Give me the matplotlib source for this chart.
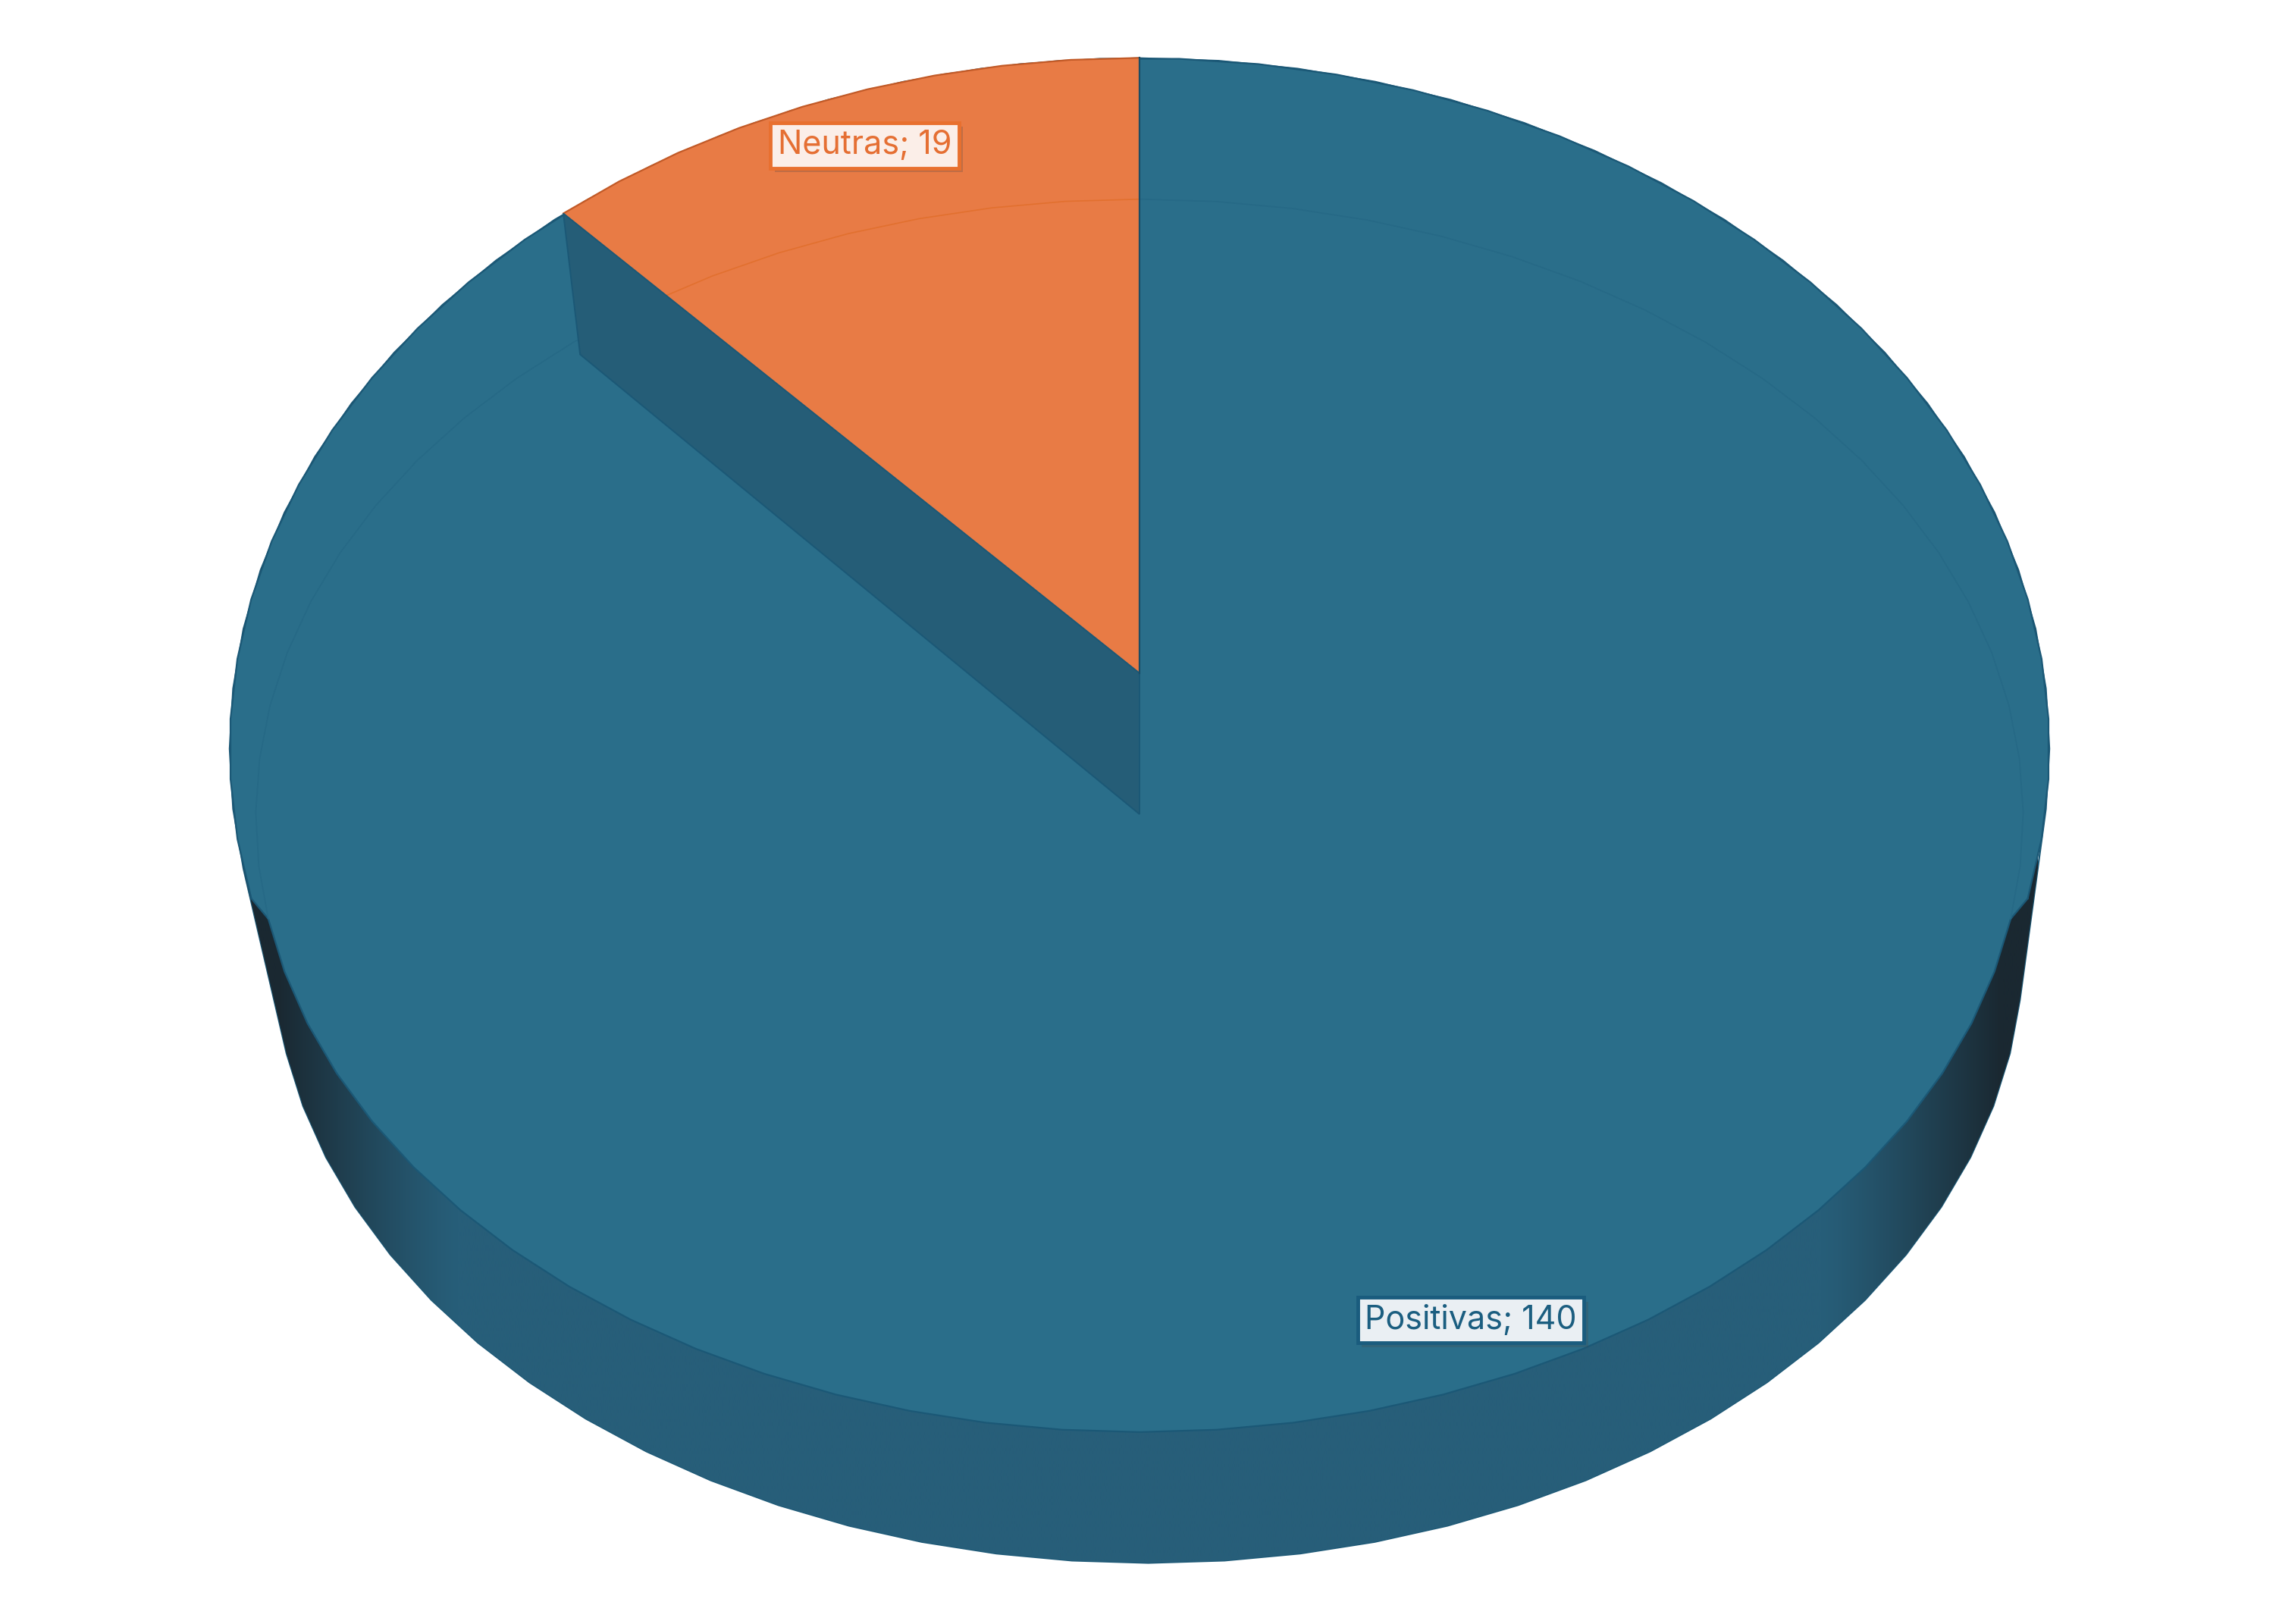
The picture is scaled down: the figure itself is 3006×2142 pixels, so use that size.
import numpy as np
import matplotlib.pyplot as plt
from matplotlib.patches import Polygon
from matplotlib import patheffects

labels = ["Positivas", "Neutras"]
values = [140, 19]
colors = ["#2A6E8A", "#E87B45"]
text_colors = ["#1B5E80", "#E56F33"]
box_fills = ["#EAEFF3", "#FBEEE8"]
box_edges = ["#1A5C7E", "#E8702F"]

W, H = 1568, 1117
# (centre x, centre y, radius x, radius y) of the ellipses used for the 3d look
rim = (784, 515, 626, 475)
base = (790, 651, 602, 424)
face = (784, 561, 608, 424)
# perspective for slice edges: (centre x, centre y, radius, depth, tilt)
top_level = (784, 463, 618, 460, 0.087)
low_level = (784, 560, 600, 460, 0.087)
join_rim = 618
join_face = 632

wall_col = np.array([0x27, 0x5E, 0x79]) / 255
dark_col = np.array([0x1A, 0x28, 0x31]) / 255
cut_col = "#255D77"
edge_col = "#1B5876"


def arc(ell, a0, a1, step=5.0):
    ex, ey, rx, ry = ell
    n = max(2, int(round(abs(a1 - a0) / step)) + 1)
    a = np.radians(np.linspace(a0, a1, n))
    return np.column_stack([ex + rx * np.sin(a), ey - ry * np.cos(a)])


def persp(lvl, a0, a1, step=5.0):
    px, py, r, s, k = lvl
    n = max(2, int(round(abs(a1 - a0) / step)) + 1)
    a = np.radians(np.linspace(a0, a1, n))
    u, v = np.sin(a), np.cos(a)
    return np.column_stack([px + r * u / (1 + k * v), py - s * v / (1 + k * v)])


def angle_at_y(ell, y):
    return np.degrees(np.arccos(-(y - ell[1]) / ell[3]))


def hull(p):
    p = sorted(map(tuple, p))
    def half(q):
        out = []
        for pt in q:
            while len(out) >= 2 and np.cross(np.subtract(out[-1], out[-2]), np.subtract(pt, out[-2])) <= 0:
                out.pop()
            out.append(pt)
        return out
    lo = half(p)
    hi = half(p[::-1])
    return np.array(lo[:-1] + hi[:-1])


fig = plt.figure(figsize=(30.06, 21.42), dpi=100)
ax = fig.add_axes([0, 0, 1, 1])
ax.set_xlim(0, W)
ax.set_ylim(H, 0)
ax.axis("off")

# slice angles, clockwise from 12 o'clock
total = sum(values)
start = 360 * values[0] / total

# outline of the whole pie
sil_pts = hull(np.vstack([arc(rim, 0, 360), arc(base, 0, 360)]))
sil = Polygon(sil_pts, closed=True, fc="none", ec=edge_col, lw=1.6, zorder=1)
ax.add_patch(sil)

# side wall with darker shading towards both ends
u = np.linspace(-1, 1, 800)
f = np.clip((np.abs(u) - 0.76) / 0.2, 0, 1) ** 1.2
img = wall_col[None, :] * (1 - f[:, None]) + dark_col[None, :] * f[:, None]
img = np.repeat(img[None, :, :], 2, axis=0)
im = ax.imshow(img, extent=(rim[0] - 618, rim[0] + 618, H, 0),
               aspect="auto", zorder=1, interpolation="bilinear")
im.set_clip_path(sil)

# top face of the big slice
ca = angle_at_y(rim, join_rim)
cf = angle_at_y(face, join_face)
upper = arc(rim, -ca, ca)
lower = arc(face, cf, 360 - cf)
ax.add_patch(Polygon(np.vstack([upper, lower]), closed=True, fc=colors[0], ec="none", zorder=2))
ax.plot(*upper.T, color=edge_col, lw=1.6, zorder=3)
ax.plot(*np.vstack([upper[-1], lower, upper[0]]).T, color=edge_col, lw=1.6, zorder=3)
ax.plot(*arc(face, 360 - cf, 360 + cf).T, color="#266986", lw=1.2, zorder=3)

# raised small slice
apex = np.array(top_level[:2])
wedge_arc = persp(top_level, start, 360)
wedge = Polygon(np.vstack([apex, wedge_arc]), closed=True, fc=colors[1], ec="none", zorder=4)
ax.add_patch(wedge)
inner, = ax.plot(*arc(face, start - 10, 360).T, color="#E2702F", lw=1.2, zorder=5)
inner.set_clip_path(wedge)
ax.plot(*wedge_arc.T, color="#C25A27", lw=1.6, zorder=5)

# cut face between the two slices
p0 = persp(top_level, start, start)[0]
p3 = persp(low_level, start, start)[0]
cut = np.array([p0, apex, low_level[:2], p3])
ax.add_patch(Polygon(cut, closed=True, fc=cut_col, ec=edge_col, lw=1.4, zorder=6))
ax.plot([apex[0], apex[0]], [wedge_arc[-1, 1], apex[1]], color="#1A4D66", lw=1.6, zorder=7)

# data labels
label_xy = [(1012, 908), (595, 100)]
for lab, v, (lx, ly), tc, bf, be in zip(labels, values, label_xy, text_colors, box_fills, box_edges):
    t = ax.text(lx, ly, f"{lab}; {v}", ha="center", va="center", fontsize=31,
                family=["Inter", "DejaVu Sans"], color=tc, zorder=10,
                bbox=dict(boxstyle="square,pad=0.22", fc=bf, ec=be, lw=3.5))
    t.get_bbox_patch().set_path_effects([
        patheffects.SimplePatchShadow(offset=(4, -4), alpha=0.25),
        patheffects.Normal()])

fig.savefig("out.png", dpi=100)
